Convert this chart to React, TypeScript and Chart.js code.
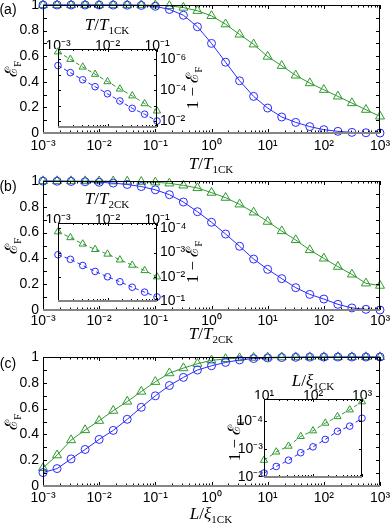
import React, { useEffect, useRef } from 'react';
import { Chart, registerables } from 'chart.js';

Chart.register(...registerables);

// ---------------- data ----------------
const mainX = [0.001, 0.00178, 0.00316, 0.00562, 0.01, 0.0178, 0.0316, 0.0562, 0.1, 0.178, 0.316, 0.562, 1, 1.78, 3.16, 5.62, 10, 17.8, 31.6, 56.2, 100, 178, 316, 562, 1000];

const panelABlue = [1, 1, 1, 0.9999, 0.9998, 0.9995, 0.9985, 0.9964, 0.99, 0.965, 0.92, 0.83, 0.7, 0.553, 0.408, 0.286, 0.195, 0.125, 0.083, 0.05, 0.026, 0.013, 0.005, 0.002, 0];
const panelAGreen = [1, 1, 1, 1, 1, 1, 0.9998, 0.9993, 0.998, 0.993, 0.98, 0.955, 0.915, 0.85, 0.77, 0.693, 0.597, 0.525, 0.45, 0.39, 0.338, 0.286, 0.234, 0.182, 0.13];

const panelBBlue = [0.9988, 0.9981, 0.9966, 0.994, 0.99, 0.984, 0.973, 0.957, 0.932, 0.894, 0.837, 0.762, 0.68, 0.589, 0.494, 0.395, 0.315, 0.243, 0.173, 0.121, 0.085, 0.044, 0.016, 0.005, 0];
const panelBGreen = [0.9999, 0.9998, 0.9996, 0.9993, 0.9988, 0.998, 0.9967, 0.9945, 0.99, 0.982, 0.966, 0.946, 0.91, 0.871, 0.819, 0.757, 0.685, 0.612, 0.543, 0.465, 0.4, 0.336, 0.276, 0.207, 0.189];

const panelCBlue = [0.104, 0.135, 0.21, 0.283, 0.361, 0.431, 0.517, 0.61, 0.699, 0.779, 0.842, 0.899, 0.932, 0.958, 0.977, 0.988, 0.9928, 0.9958, 0.9975, 0.9987, 0.9992, 0.9995, 0.9998, 0.9998, 0.9999];
const panelCGreen = [0.14, 0.239, 0.356, 0.434, 0.506, 0.584, 0.655, 0.732, 0.808, 0.875, 0.914, 0.948, 0.974, 0.985, 0.992, 0.995, 0.9975, 0.9987, 0.9992, 0.9997, 0.9998, 0.9999, 0.9999, 1, 1];

const insetABX = [0.001, 0.00178, 0.00316, 0.00562, 0.01, 0.0178, 0.0316, 0.0562, 0.1];
const insetABlue = [2.5e-6, 7.2e-6, 2.1e-5, 5.9e-5, 1.7e-4, 5.0e-4, 1.5e-3, 3.6e-3, 1.0e-2];
const insetAGreen = [3.2e-7, 9.8e-7, 3.1e-6, 9.1e-6, 2.75e-5, 8.3e-5, 2.3e-4, 7.4e-4, 2.2e-3];
const insetBBlue = [1.23e-3, 1.9e-3, 3.4e-3, 6.0e-3, 1.0e-2, 1.6e-2, 2.7e-2, 4.3e-2, 6.8e-2];
const insetBGreen = [1.38e-4, 2.4e-4, 4.4e-4, 7.4e-4, 1.15e-3, 2.0e-3, 3.3e-3, 5.5e-3, 1.0e-2];

const insetCX = [10, 17.8, 31.6, 56.2, 100, 178, 316, 562, 1000];
const insetCBlue = [7.2e-3, 4.2e-3, 2.5e-3, 1.35e-3, 8.3e-4, 4.5e-4, 2.3e-4, 1.5e-4, 7.8e-5];
const insetCGreen = [2.5e-3, 1.26e-3, 7.8e-4, 3.5e-4, 2.2e-4, 1.17e-4, 6.8e-5, 3.9e-5, 2.0e-5];

// tick values / labels
const mainXTicks = [1e-3, 1e-2, 1e-1, 1, 1e1, 1e2, 1e3];
const mainYTicks = [0, 0.2, 0.4, 0.6, 0.8, 1];
const mainYLabels = ['0', '0.2', '0.4', '0.6', '0.8', '1'];
const mainYMarks = [0, 0.1, 0.2, 0.3, 0.4, 0.5, 0.6, 0.7, 0.8, 0.9, 1];
const insetABXTicks = [1e-3, 1e-2, 1e-1];
const insetCXTicks = [10, 100, 1000];
const insetAYTicks = [1e-6, 1e-4, 1e-2];
const insetAYMarks = [1e-6, 1e-5, 1e-4, 1e-3, 1e-2];
const insetBYTicks = [1e-4, 1e-3, 1e-2, 1e-1];
const insetCYTicks = [1e-4, 1e-3, 1e-2];

// ---------------- styling ----------------
const BLUE = '#2a2aff';
const GREEN = '#2e9a2e';
const SANS = '"Liberation Sans", Arial, sans-serif';
const SERIF = '"Liberation Serif", "Times New Roman", "DejaVu Serif", serif';

const SUP: Record<string, string> = { '-': '\u207B', '0': '\u2070', '1': '\u00B9', '2': '\u00B2', '3': '\u00B3', '4': '\u2074', '5': '\u2075', '6': '\u2076', '7': '\u2077', '8': '\u2078', '9': '\u2079' };
function powLabel(v: number): string {
  const e = Math.round(Math.log10(v));
  return '10' + String(e).split('').map((c) => SUP[c]).join('');
}
function logMinors(min: number, max: number): number[] {
  const out: number[] = [];
  for (let d = Math.floor(Math.log10(min)); d <= Math.ceil(Math.log10(max)); d++) {
    for (let m = 2; m <= 9; m++) {
      const v = m * Math.pow(10, d);
      if (v > min * 1.0001 && v < max * 0.9999) out.push(v);
    }
  }
  return out;
}

interface Spec {
  canvas: { left: number; top: number; width: number; height: number };
  area: { x0: number; y0: number; x1: number; y1: number };
  layout: 'main' | 'insetRight' | 'insetLeft';
  xData: number[];
  blue: number[];
  green: number[];
  xMin: number;
  xMax: number;
  xTicks: number[];
  yLog: boolean;
  yMin: number;
  yMax: number;
  yTicks: number[];
  yLabels?: string[];
  yMarks: number[];
  dashed: boolean;
  circleR: number;
  triR: number;
  xPad: number;
  yPad: number;
  major: number;
  minor: number;
  fill: boolean;
}

function framePlugin(s: Spec) {
  const xMinor = logMinors(s.xMin, s.xMax);
  return {
    id: 'frame',
    beforeDatasetsDraw(chart: any) {
      if (!s.fill) return;
      const { ctx, chartArea: a } = chart;
      ctx.save();
      ctx.fillStyle = '#fff';
      ctx.fillRect(a.left, a.top, a.right - a.left, a.bottom - a.top);
      ctx.restore();
    },
    afterDraw(chart: any) {
      const { ctx, chartArea: a } = chart;
      const xs = chart.scales.x;
      const ys = chart.scales.y;
      const L = a.left + 0.5;
      const R = a.right - 0.5;
      const T = a.top + 0.5;
      const B = a.bottom;
      ctx.save();
      ctx.strokeStyle = '#000';
      ctx.lineWidth = 1;
      ctx.beginPath();
      const xt = (v: number, len: number) => {
        const p = Math.round(xs.getPixelForValue(v)) + 0.5;
        ctx.moveTo(p, B);
        ctx.lineTo(p, B - len);
        ctx.moveTo(p, a.top);
        ctx.lineTo(p, a.top + len);
      };
      s.xTicks.forEach((v) => xt(v, s.major));
      xMinor.forEach((v) => xt(v, s.minor));
      s.yMarks.forEach((v) => {
        const p = Math.round(ys.getPixelForValue(v)) + 0.5;
        ctx.moveTo(a.left, p);
        ctx.lineTo(a.left + s.major, p);
        ctx.moveTo(a.right, p);
        ctx.lineTo(a.right - s.major, p);
      });
      ctx.stroke();
      ctx.beginPath();
      ctx.moveTo(L, B);
      ctx.lineTo(L, T);
      ctx.lineTo(R, T);
      ctx.lineTo(R, B);
      ctx.stroke();
      ctx.beginPath();
      ctx.strokeStyle = '#858585';
      ctx.lineWidth = 2;
      ctx.moveTo(a.left, B);
      ctx.lineTo(a.right, B);
      ctx.stroke();
      ctx.restore();
    },
  };
}

function dataset(xs: number[], ys: number[], color: string, style: string, r: number, dashed: boolean) {
  return {
    data: xs.map((x, i) => ({ x, y: ys[i] })),
    borderColor: color,
    borderWidth: 1,
    borderDash: dashed ? [4, 3] : [],
    pointStyle: style,
    pointRadius: r,
    pointBorderWidth: 1,
    pointBorderColor: color,
    pointBackgroundColor: 'rgba(0,0,0,0)',
    tension: 0,
    fill: false,
    clip: false,
  };
}

function makeConfig(s: Spec): any {
  const c = s.canvas;
  const a = s.area;
  let padding: any;
  let xH: number;
  let yW: number;
  let xPos: string;
  let yPos: string;
  if (s.layout === 'main') {
    padding = { left: 0, top: a.y0 - c.top, right: c.left + c.width - a.x1, bottom: 0 };
    yW = a.x0 - c.left;
    xH = c.top + c.height - a.y1;
    xPos = 'bottom';
    yPos = 'left';
  } else if (s.layout === 'insetRight') {
    padding = { left: a.x0 - c.left, top: 0, right: 0, bottom: c.top + c.height - a.y1 };
    xH = a.y0 - c.top;
    yW = c.left + c.width - a.x1;
    xPos = 'top';
    yPos = 'right';
  } else {
    padding = { left: 0, top: 0, right: c.left + c.width - a.x1, bottom: c.top + c.height - a.y1 };
    xH = a.y0 - c.top;
    yW = a.x0 - c.left;
    xPos = 'top';
    yPos = 'left';
  }
  const font = { family: SANS, size: 14 };
  return {
    type: 'line',
    data: {
      datasets: [
        dataset(s.xData, s.blue, BLUE, 'circle', s.circleR, s.dashed),
        dataset(s.xData, s.green, GREEN, 'triangle', s.triR, s.dashed),
      ],
    },
    options: {
      responsive: false,
      animation: false,
      devicePixelRatio: 1,
      events: [],
      layout: { padding },
      plugins: { legend: { display: false }, tooltip: { enabled: false } },
      scales: {
        x: {
          type: 'logarithmic',
          position: xPos,
          min: s.xMin,
          max: s.xMax,
          grid: { display: false, drawTicks: false, tickLength: 0 },
          border: { display: false },
          afterBuildTicks: (sc: any) => {
            sc.ticks = s.xTicks.map((v) => ({ value: v }));
          },
          afterFit: (sc: any) => {
            sc.height = xH;
          },
          ticks: {
            autoSkip: false,
            maxRotation: 0,
            minRotation: 0,
            padding: s.xPad,
            color: '#000',
            font,
            callback: (v: any) => powLabel(Number(v)),
          },
        },
        y: {
          type: s.yLog ? 'logarithmic' : 'linear',
          position: yPos,
          min: s.yMin,
          max: s.yMax,
          reverse: s.yLog,
          grid: { display: false, drawTicks: false, tickLength: 0 },
          border: { display: false },
          afterBuildTicks: (sc: any) => {
            sc.ticks = s.yTicks.map((v) => ({ value: v }));
          },
          afterFit: (sc: any) => {
            sc.width = yW;
          },
          ticks: {
            autoSkip: false,
            padding: s.yPad,
            color: '#000',
            font,
            callback: (v: any, i: number) => (s.yLabels ? s.yLabels[i] : powLabel(Number(v))),
          },
        },
      },
    },
    plugins: [framePlugin(s)],
  };
}

const mainCommon = {
  layout: 'main' as const,
  xData: mainX,
  xMin: 1e-3,
  xMax: 1e3,
  xTicks: mainXTicks,
  yLog: false,
  yMin: 0,
  yMax: 1,
  yTicks: mainYTicks,
  yLabels: mainYLabels,
  yMarks: mainYMarks,
  dashed: false,
  circleR: 4,
  triR: 5.2,
  yPad: 4,
  major: 4,
  minor: 2.5,
  fill: false,
};

const insetCommon = {
  yLog: true,
  dashed: true,
  circleR: 3.3,
  triR: 4.2,
  major: 3,
  minor: 2,
  fill: true,
};

const SPECS: Spec[] = [
  { ...mainCommon, canvas: { left: 0, top: -15, width: 410, height: 175 }, area: { x0: 43, y0: 5, x1: 380, y1: 133 }, blue: panelABlue, green: panelAGreen, xPad: 5 },
  { ...mainCommon, canvas: { left: 0, top: 161, width: 410, height: 174 }, area: { x0: 43, y0: 181, x1: 380, y1: 310 }, blue: panelBBlue, green: panelBGreen, xPad: 3 },
  { ...mainCommon, canvas: { left: 0, top: 337, width: 410, height: 190 }, area: { x0: 43, y0: 357, x1: 380, y1: 486 }, blue: panelCBlue, green: panelCGreen, xPad: 4 },
  { ...insetCommon, layout: 'insetRight', canvas: { left: 30, top: 30, width: 175, height: 110 }, area: { x0: 58, y0: 49, x1: 157, y1: 127 }, xData: insetABX, blue: insetABlue, green: insetAGreen, xMin: 1e-3, xMax: 1e-1, xTicks: insetABXTicks, yMin: 2.1e-7, yMax: 2.45e-2, yTicks: insetAYTicks, yMarks: insetAYMarks, xPad: -6, yPad: 3 },
  { ...insetCommon, layout: 'insetRight', canvas: { left: 30, top: 200, width: 175, height: 115 }, area: { x0: 58, y0: 223, x1: 157, y1: 301 }, xData: insetABX, blue: insetBBlue, green: insetBGreen, xMin: 1e-3, xMax: 1e-1, xTicks: insetABXTicks, yMin: 6e-5, yMax: 1e-1, yTicks: insetBYTicks, yMarks: insetBYTicks, xPad: -6, yPad: 3 },
  { ...insetCommon, layout: 'insetLeft', canvas: { left: 225, top: 375, width: 160, height: 115 }, area: { x0: 264, y0: 399, x1: 362, y1: 477 }, xData: insetCX, blue: insetCBlue, green: insetCGreen, xMin: 10, xMax: 1000, xTicks: insetCXTicks, yMin: 1.6e-5, yMax: 1e-2, yTicks: insetCYTicks, yMarks: insetCYTicks, xPad: -6, yPad: 1 },
];

// ---------------- text overlays ----------------
function Txt(props: { x: number; y: number; rotate?: boolean; size?: number; family?: string; children: any }) {
  const { x, y, rotate, size = 17, family = SERIF, children } = props;
  return (
    <div
      style={{
        position: 'absolute',
        left: x,
        top: y,
        transform: `translate(-50%, -50%)${rotate ? ' rotate(-90deg)' : ''}`,
        font: `${size}px ${family}`,
        lineHeight: 1,
        whiteSpace: 'nowrap',
        color: '#000',
      }}
    >
      {children}
    </div>
  );
}
function Sub(props: { children: any }) {
  return <span style={{ fontSize: 11, fontStyle: 'normal', position: 'relative', top: 4 }}>{props.children}</span>;
}
const EF = () => (
  <>
    <span>{'\u2130'}</span>
    <Sub>F</Sub>
  </>
);

export default function App() {
  const canvases = useRef<(HTMLCanvasElement | null)[]>([]);
  useEffect(() => {
    const charts = SPECS.map((s, i) => new Chart(canvases.current[i] as HTMLCanvasElement, makeConfig(s)));
    return () => charts.forEach((ch) => ch.destroy());
  }, []);
  return (
    <div style={{ position: 'absolute', left: 0, top: 0, width: 390, height: 527, overflow: 'hidden', background: '#fff' }}>
      {SPECS.map((s, i) => (
        <canvas
          key={i}
          ref={(el) => {
            canvases.current[i] = el;
          }}
          width={s.canvas.width}
          height={s.canvas.height}
          style={{ position: 'absolute', left: s.canvas.left, top: s.canvas.top, width: s.canvas.width, height: s.canvas.height }}
        />
      ))}
      <Txt x={8} y={9} size={14} family={SANS}>(a)</Txt>
      <Txt x={8} y={186} size={14} family={SANS}>(b)</Txt>
      <Txt x={8} y={363} size={14} family={SANS}>(c)</Txt>

      <Txt x={11} y={69} rotate><EF /></Txt>
      <Txt x={11} y={246} rotate><EF /></Txt>
      <Txt x={11} y={422} rotate><EF /></Txt>

      <Txt x={211} y={163}><i>T</i>/<i>T</i><Sub>1CK</Sub></Txt>
      <Txt x={211} y={333}><i>T</i>/<i>T</i><Sub>2CK</Sub></Txt>
      <Txt x={211} y={513}><i>L</i>/<i>{'\u03BE'}</i><Sub>1CK</Sub></Txt>

      <Txt x={107} y={24}><i>T</i>/<i>T</i><Sub>1CK</Sub></Txt>
      <Txt x={107} y={198}><i>T</i>/<i>T</i><Sub>2CK</Sub></Txt>
      <Txt x={313} y={380}><i>L</i>/<i>{'\u03BE'}</i><Sub>1CK</Sub></Txt>

      <Txt x={192} y={88} rotate>1 {'\u2212'} <EF /></Txt>
      <Txt x={192} y={262} rotate>1 {'\u2212'} <EF /></Txt>
      <Txt x={234} y={440} rotate>1 {'\u2212'} <EF /></Txt>
    </div>
  );
}
